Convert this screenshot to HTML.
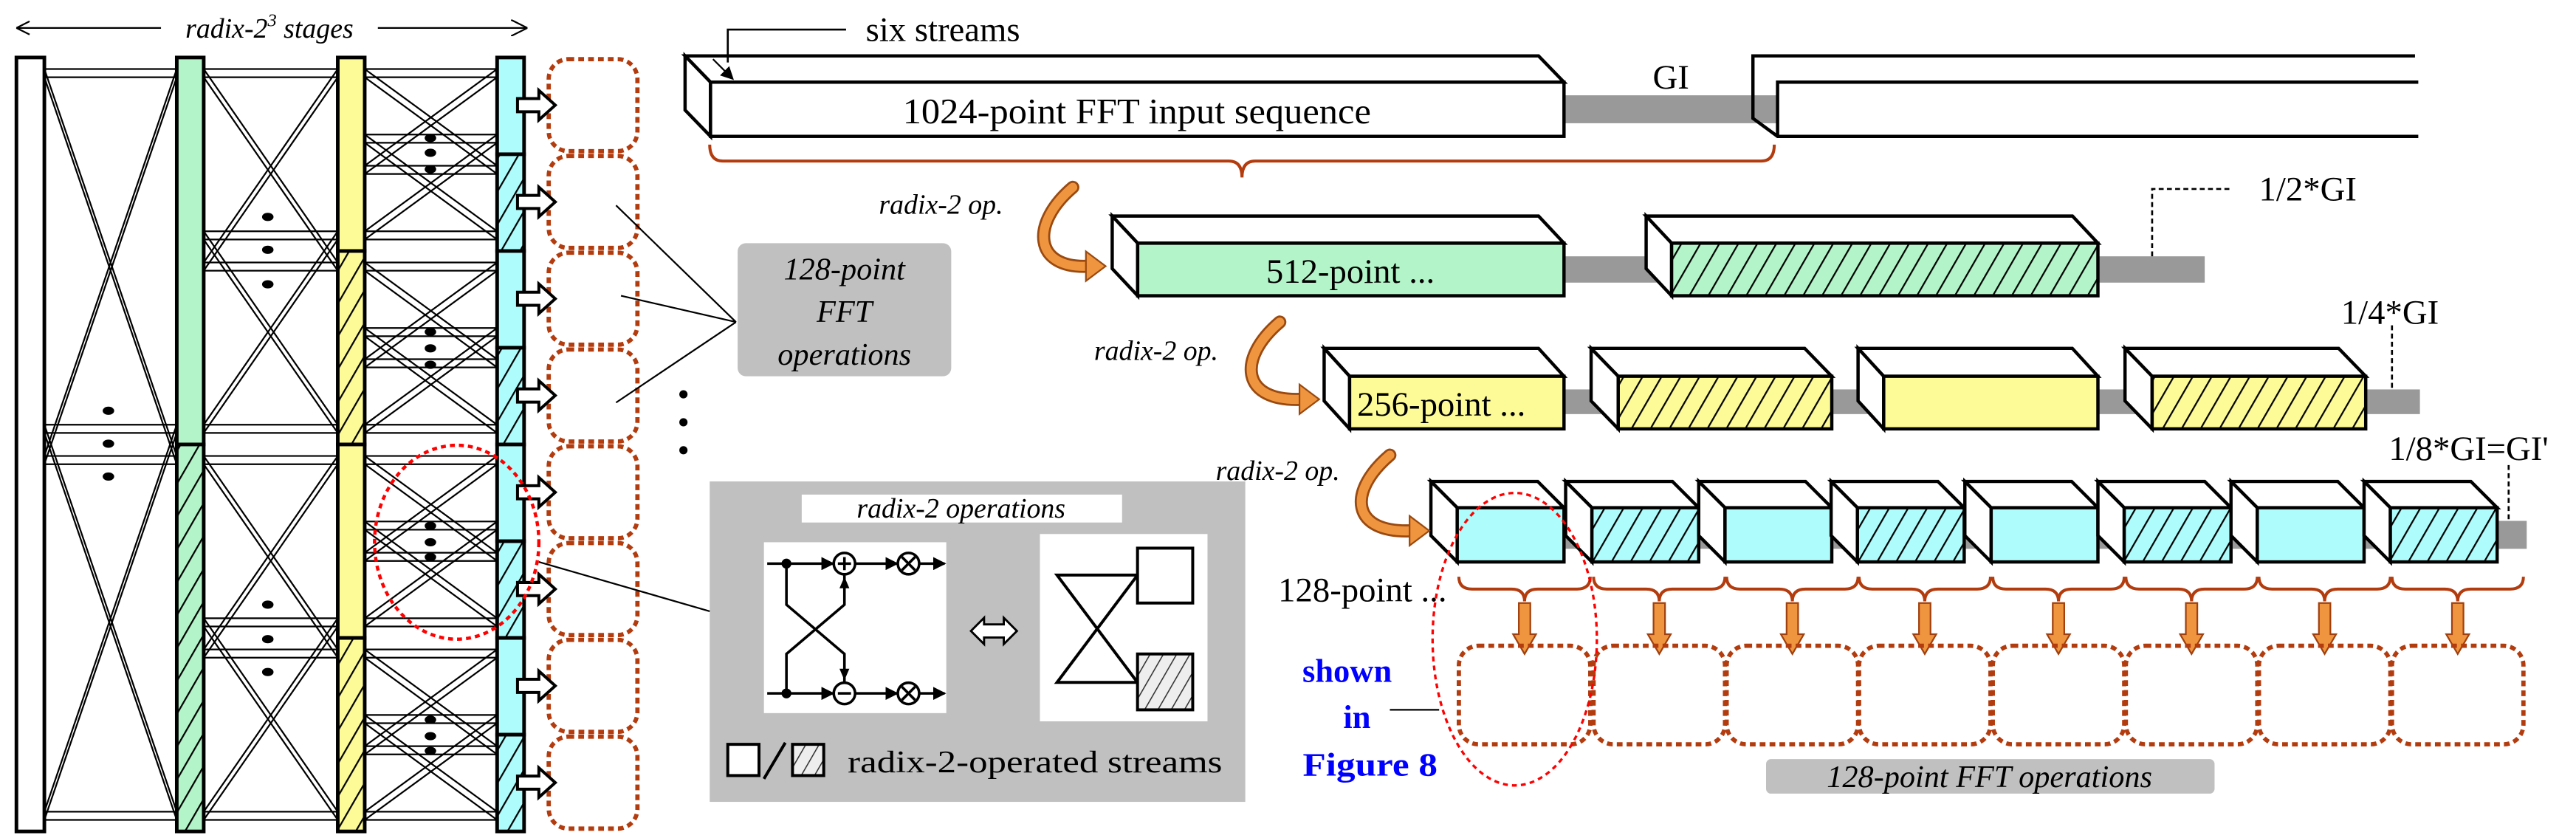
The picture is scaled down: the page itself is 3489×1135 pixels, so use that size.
<!DOCTYPE html>
<html><head><meta charset="utf-8"><style>
html,body{margin:0;padding:0;background:#fff}
svg{display:block}
text{font-family:"Liberation Serif",serif}
</style></head><body>
<svg id="s" xmlns="http://www.w3.org/2000/svg" width="3489" height="1135" viewBox="0 0 1568 510" preserveAspectRatio="none">
<defs>
<pattern id="hg" width="10" height="10" patternUnits="userSpaceOnUse" patternTransform="rotate(30)"><rect width="10" height="10" fill="#b3f5c9"/><line x1="0" y1="0" x2="0" y2="10" stroke="#000" stroke-width="2"/></pattern>
<pattern id="hy" width="10" height="10" patternUnits="userSpaceOnUse" patternTransform="rotate(30)"><rect width="10" height="10" fill="#fdfb98"/><line x1="0" y1="0" x2="0" y2="10" stroke="#000" stroke-width="2"/></pattern>
<pattern id="hc" width="10" height="10" patternUnits="userSpaceOnUse" patternTransform="rotate(30)"><rect width="10" height="10" fill="#aefcfc"/><line x1="0" y1="0" x2="0" y2="10" stroke="#000" stroke-width="2"/></pattern>
<pattern id="hw" width="7" height="7" patternUnits="userSpaceOnUse" patternTransform="rotate(30)"><rect width="7" height="7" fill="#eee"/><line x1="0" y1="0" x2="0" y2="7" stroke="#333" stroke-width="1.4"/></pattern>
<marker id="ah" markerWidth="8" markerHeight="8" refX="7" refY="4" orient="auto" markerUnits="userSpaceOnUse"><path d="M0,0 L8,4 L0,8 z" fill="#000"/></marker>
<marker id="oa" markerWidth="10" markerHeight="10" refX="9" refY="5" orient="auto" markerUnits="userSpaceOnUse"><path d="M0,0 L10,5 L0,10" fill="none" stroke="#000"/></marker>
</defs>
<g id="g"></g>

<line x1="10" y1="17" x2="98" y2="17" stroke="#000" stroke-width="1"/>
<line x1="230" y1="17" x2="320" y2="17" stroke="#000" stroke-width="1" marker-end="url(#oa)"/>
<path d="M10,17 l8,-4 M10,17 l8,4" stroke="#000" fill="none"/>
<text x="164" y="23" font-size="17" font-style="italic" text-anchor="middle">radix-2<tspan font-size="11" dy="-7">3</tspan><tspan dy="7"> stages</tspan></text>

<text x="527" y="25" font-size="21">six streams</text>
<path d="M515,18 L443,18 L443,38" stroke="#000" fill="none" stroke-width="1.2"/>
<line x1="434" y1="36" x2="446" y2="48" stroke="#000" stroke-width="1" marker-end="url(#ah)"/>
<text x="1006" y="54" font-size="21">GI</text>
<text x="692" y="75" font-size="22" text-anchor="middle" textLength="285" lengthAdjust="spacingAndGlyphs">1024-point FFT input sequence</text>
<text x="822" y="172" font-size="21" text-anchor="middle">512-point ...</text>
<text x="826" y="253" font-size="21">256-point ...</text>
<text x="1375" y="122" font-size="21">1/2*GI</text>
<text x="1425" y="197" font-size="21">1/4*GI</text>
<text x="1454" y="280" font-size="21">1/8*GI=GI'</text>
<text x="535" y="130" font-size="17" font-style="italic">radix-2 op.</text>
<text x="666" y="219" font-size="17" font-style="italic">radix-2 op.</text>
<text x="740" y="292" font-size="17" font-style="italic">radix-2 op.</text>
<text x="778" y="366" font-size="21">128-point ...</text>
<text x="820" y="415" font-size="20" font-weight="bold" fill="#0000ff" text-anchor="middle">shown</text>
<text x="826" y="443" font-size="20" font-weight="bold" fill="#0000ff" text-anchor="middle">in</text>
<text x="834" y="472" font-size="20" font-weight="bold" fill="#0000ff" text-anchor="middle" textLength="82" lengthAdjust="spacingAndGlyphs">Figure 8</text>
<line x1="846" y1="432" x2="876" y2="432" stroke="#000"/>
<rect x="1075" y="462" width="273" height="21" rx="3" fill="#c0c0c0"/>
<text x="1211" y="479" font-size="19" font-style="italic" text-anchor="middle">128-point FFT operations</text>

<rect x="449" y="148" width="130" height="81" rx="5" fill="#c0c0c0"/>
<text x="514" y="170" font-size="19" font-style="italic" text-anchor="middle">128-point</text>
<text x="514" y="196" font-size="19" font-style="italic" text-anchor="middle">FFT</text>
<text x="514" y="222" font-size="19" font-style="italic" text-anchor="middle">operations</text>
<path d="M375,125 L448,196 M378,180 L448,196 M375,245 L448,196" stroke="#000" fill="none" stroke-width="1"/>
<circle cx="416" cy="240" r="2.5"/><circle cx="416" cy="257" r="2.5"/><circle cx="416" cy="274" r="2.5"/>

<rect x="432" y="293" width="326" height="195" fill="#c0c0c0"/>
<rect x="488" y="301" width="195" height="17" fill="#fff"/>
<text x="585" y="315" font-size="17" font-style="italic" text-anchor="middle">radix-2 operations</text>
<rect x="465" y="330" width="111" height="104" fill="#fff"/>
<rect x="633" y="325" width="102" height="114" fill="#fff"/>
<g stroke="#000" stroke-width="1.6" fill="none">
<line x1="467" y1="343" x2="507" y2="343" marker-end="url(#ah)"/>
<line x1="467" y1="422" x2="507" y2="422" marker-end="url(#ah)"/>
<line x1="521" y1="343" x2="546" y2="343" marker-end="url(#ah)"/>
<line x1="521" y1="422" x2="546" y2="422" marker-end="url(#ah)"/>
<line x1="560" y1="343" x2="575" y2="343" marker-end="url(#ah)"/>
<line x1="560" y1="422" x2="575" y2="422" marker-end="url(#ah)"/>
<path d="M478.7,343 V368 L514,398 V415"/>
<path d="M478.7,422 V398 L514,368 V350"/>
<circle cx="514" cy="343" r="6.5" fill="#fff"/><circle cx="514" cy="422" r="6.5" fill="#fff"/>
<circle cx="553" cy="343" r="6.5" fill="#fff"/><circle cx="553" cy="422" r="6.5" fill="#fff"/>
<path d="M510,343 h8 M514,339 v8 M510,422 h8 M549,339 l8,8 M557,339 l-8,8 M549,418 l8,8 M557,418 l-8,8"/>
</g>
<path d="M514,351 l-3,7 h6 z M514,414 l-3,-7 h6 z" fill="#000"/>
<circle cx="478.7" cy="343" r="3"/><circle cx="478.7" cy="422" r="3"/>
<path d="M591,384 l8,-8 v4 h12 v-4 l8,8 l-8,8 v-4 h-12 v4 z" fill="#fff" stroke="#000" stroke-width="1.3"/>
<g stroke="#000" stroke-width="1.8" fill="none">
<path d="M643.4,350 H692.4 L643.4,415.3 H692.4 Z"/>
<rect x="692.4" y="333.6" width="33.6" height="33.4" fill="#fff"/>
<rect x="692.4" y="398" width="33.6" height="34" fill="url(#hw)"/>
<rect x="443" y="453" width="19" height="19" fill="#fff"/>
<rect x="482.4" y="453" width="19" height="19" fill="url(#hw)"/>
<line x1="465" y1="474" x2="478" y2="452"/>
</g>
<text x="516" y="470" font-size="19" textLength="228" lengthAdjust="spacingAndGlyphs">radix-2-operated streams</text>

<ellipse cx="278" cy="330" rx="50" ry="59" fill="none" stroke="#f00" stroke-width="2" stroke-dasharray="3 2.5"/>
<line x1="328" y1="342" x2="432" y2="372" stroke="#000"/>
<ellipse cx="922" cy="389" rx="50" ry="89" fill="none" stroke="#f00" stroke-width="1.5" stroke-dasharray="3 2.5"/>
</svg>
<script>
const NS="http://www.w3.org/2000/svg";const g=document.getElementById('g');
function el(t,a){const e=document.createElementNS(NS,t);for(const k in a)e.setAttribute(k,a[k]);g.appendChild(e);return e;}
function L(x1,y1,x2,y2,w,c){el('line',{x1,y1,x2,y2,stroke:c||'#000','stroke-width':w||1});}
const T=35,B=506;
const cols=[[10,27,'#fff',null,1],[107.6,124,'#b3f5c9','hg',2],[205.6,222,'#fdfb98','hy',4],[302.6,319,'#aefcfc','hc',8]];
const stages=[[27,107.6,2],[124,205.6,4],[222,302.6,8]];
stages.forEach(([xl,xr,n])=>{const Ls=(B-T)/n;
 for(let i=0;i<n;i++){const s=T+i*Ls,e=s+Ls;[7,12].forEach(o=>{L(xl,s+o,xr,s+o,1);L(xl,e-o,xr,e-o,1);});}
 for(let i=0;i<n;i+=2){const a=T+i*Ls,b=a+Ls,c=b+Ls;
  [7,12].forEach(o=>{L(xl,a+o,xr,b+o);L(xl,b+o,xr,a+o);L(xl,b-o,xr,c-o);L(xl,c-o,xr,b-o);});}
});
function dots(x,ys){ys.forEach(y=>el('ellipse',{cx:x,cy:y,rx:3.5,ry:2.5,fill:'#000'}));}
dots(66,[250,270,290]);dots(163,[132,152,173]);dots(163,[368,389,409]);
[[84,93,103],[202,212,222],[320,330,339],[438,448,457]].forEach(y=>dots(262,y));
cols.forEach(([x1,x2,c,p,n])=>{const Ls=(B-T)/n;for(let i=0;i<n;i++){el('rect',{x:x1,y:T+i*Ls,width:x2-x1,height:Ls,fill:(i%2&&p)?'url(#'+p+')':c,stroke:'#000','stroke-width':2.2});}});
for(let i=0;i<8;i++){const y=T+i*58.9;
 el('rect',{x:334,y:y+1,width:54,height:56,rx:12,fill:'none',stroke:'#b33c0f','stroke-width':2.6,'stroke-dasharray':'3.5 2.5'});
 const cy=64+i*58.9;el('path',{d:`M315,${cy-4} H328 V${cy-9} L338,${cy} L328,${cy+9} V${cy+4} H315 Z`,fill:'#fff',stroke:'#000','stroke-width':1.8});}
function box(bx,ty,fx,fr,fy,by,fill){const d=fx-bx,br=fr-d;
 el('polygon',{points:`${bx},${ty} ${br},${ty} ${fr},${fy} ${fx},${fy}`,fill:'#fff',stroke:'#000','stroke-width':2});
 el('polygon',{points:`${bx},${ty} ${fx},${fy} ${fx},${by} ${bx},${by-(fy-ty)}`,fill:'#fff',stroke:'#000','stroke-width':2});
 el('rect',{x:fx,y:fy,width:fr-fx,height:by-fy,fill,stroke:'#000','stroke-width':2});}
el('rect',{x:952,y:58,width:130,height:17,fill:'#999'});
box(417,34,432.5,952,50,83,'#fff');
el('path',{d:'M1470,34 H1067 V72 L1082,83 H1472 M1082,83 V50 H1472',fill:'none',stroke:'#000','stroke-width':2});
el('rect',{x:952,y:156,width:390,height:16,fill:'#999'});
box(677,131.5,692.5,952,148,180,'#b3f5c9');box(1002,131.5,1017.5,1277,148,180,'url(#hg)');
el('path',{d:'M1310,156 V115 H1357',fill:'none',stroke:'#000','stroke-dasharray':'3 2','stroke-width':1.2});
el('rect',{x:952,y:237,width:521,height:15,fill:'#999'});
[[806,821.5,952,'#fdfb98'],[968.5,985,1115,'url(#hy)'],[1131,1146.6,1277,'#fdfb98'],[1293.5,1310,1440,'url(#hy)']].forEach(b=>box(b[0],212,b[1],b[2],229,261,b[3]));
el('path',{d:'M1456,198 V237',fill:'none',stroke:'#000','stroke-dasharray':'3 2','stroke-width':1.2});
el('rect',{x:952,y:317,width:586,height:17,fill:'#999'});
const fr=[952,1034,1115,1195.6,1277,1358,1439,1520];
fr.forEach((r,i)=>{const fx=r-65;box(fx-16,293,fx,r,309,342,i%2?'url(#hc)':'#aefcfc');});
el('path',{d:'M1527,283 V317',fill:'none',stroke:'#000','stroke-dasharray':'3 2','stroke-width':1.2});
function brace(x1,x2,y,h){const m=(x1+x2)/2,r=Math.min(8,(x2-x1)/8);
 el('path',{d:`M${x1},${y} Q${x1},${y+h/2} ${x1+r},${y+h/2} H${m-r} Q${m},${y+h/2} ${m},${y+h} Q${m},${y+h/2} ${m+r},${y+h/2} H${x2-r} Q${x2},${y+h/2} ${x2},${y}`,fill:'none',stroke:'#b33c0f','stroke-width':1.8});}
brace(432,1080,88,20);
fr.forEach((r,i)=>{const x1=r-64,x2=r+16;brace(x1,x2,351,15);const m=(x1+x2)/2;
 el('path',{d:`M${m-3.5},367 H${m+3.5} V386 H${m+7} L${m},398 L${m-7},386 H${m-3.5} Z`,fill:'#f0953f',stroke:'#a0400f','stroke-width':1});
 el('rect',{x:x1,y:393,width:80,height:60,rx:12,fill:'none',stroke:'#b33c0f','stroke-width':2.6,'stroke-dasharray':'3.5 2.5'});});
function carr(x0,y0,x1,y1){const p=`M${x0},${y0} C${x0-26},${y0+22} ${x0-24},${y1+2} ${x1-8},${y1}`;
 el('path',{d:p,fill:'none',stroke:'#9a4a10','stroke-width':8,'stroke-linecap':'round'});
 el('path',{d:p,fill:'none',stroke:'#f0953f','stroke-width':5.5,'stroke-linecap':'round'});
 el('path',{d:`M${x1-10},${y1-9} L${x1+2},${y1} L${x1-10},${y1+9} Z`,fill:'#f0953f',stroke:'#9a4a10','stroke-width':1});}
carr(653,114,671,162);carr(779,196,801,243);carr(846,277,868,323);
</script>
</body></html>
